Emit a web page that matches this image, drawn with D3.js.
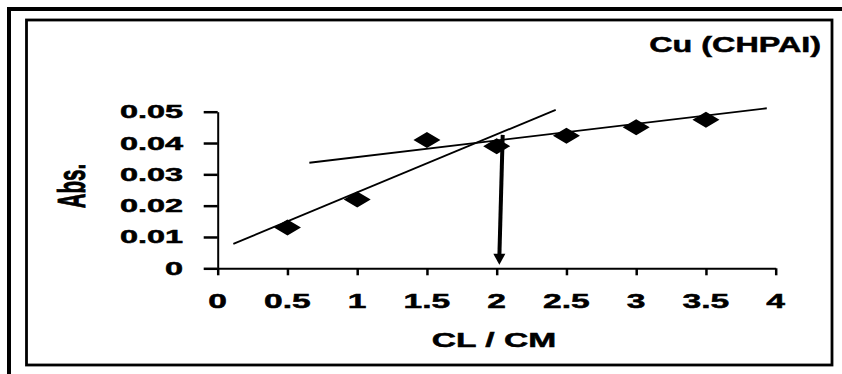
<!DOCTYPE html>
<html>
<head>
<meta charset="utf-8">
<script src="https://cdn.jsdelivr.net/npm/d3@7/dist/d3.min.js"></script>
<style>
html,body{margin:0;padding:0;background:#fff;}
svg{display:block;}
text{font-family:"Liberation Sans",Arial,sans-serif;font-weight:bold;fill:#000;stroke:#000;stroke-width:0.5px;}
</style>
</head>
<body>
<svg id="chart" width="842" height="374"></svg>
<script>
// ---- data ----
const xValues = [0.5, 1, 1.5, 2, 2.5, 3, 3.5];
const absValues = [0.013, 0.022, 0.041, 0.039, 0.0423, 0.045, 0.0474];
const xTicks = [0, 0.5, 1, 1.5, 2, 2.5, 3, 3.5, 4];
const xTickLabels = ["0", "0.5", "1", "1.5", "2", "2.5", "3", "3.5", "4"];
const yTicks = [0, 0.01, 0.02, 0.03, 0.04, 0.05];
const yTickLabels = ["0", "0.01", "0.02", "0.03", "0.04", "0.05"];
const fitLineLow = [[0.112, 0.0078], [2.423, 0.0506]];
const fitLineHigh = [[0.657, 0.0337], [3.936, 0.0511]];
const arrowLine = [[2.043, 0.0426], [2.019, 0.0011]];
const titleText = "Cu (CHPAI)";
const xTitle = "CL / CM";
const yTitle = "Abs.";

// ---- layout ----
const svg = d3.select("#chart");
const x = d3.scaleLinear().domain([0, 4]).range([217.7, 775.7]);
const y = d3.scaleLinear().domain([0, 0.05]).range([268.3, 111.7]);
const SX = 1.6; // horizontal stretch of the text in the reference

// outer frame (top and left edges)
svg.append("line").attr("x1", 7).attr("y1", 9).attr("x2", 842).attr("y2", 9)
  .attr("stroke", "#000").attr("stroke-width", 4);
svg.append("line").attr("x1", 9).attr("y1", 7).attr("x2", 9).attr("y2", 374)
  .attr("stroke", "#000").attr("stroke-width", 4);
// inner frame
svg.append("rect").attr("x", 26.5).attr("y", 20).attr("width", 805.5).attr("height", 345)
  .attr("fill", "none").attr("stroke", "#000").attr("stroke-width", 2.8);

// axes
const yAxis = d3.axisLeft(y).tickValues(yTicks).tickSize(14).tickSizeOuter(0).tickFormat("");
const xAxis = d3.axisBottom(x).tickValues(xTicks).tickSize(7).tickSizeOuter(0).tickFormat("");
const gy = svg.append("g").attr("transform", `translate(${x(0)},0)`).call(yAxis);
const gx = svg.append("g").attr("transform", `translate(0,${y(0)})`).call(xAxis);
[gy, gx].forEach(g => {
  g.select(".domain").attr("stroke", "#000").attr("stroke-width", 2);
  g.selectAll(".tick line").attr("stroke", "#000").attr("stroke-width", 2.5);
});

// tick labels
svg.append("g").selectAll("text").data(yTicks).join("text")
  .attr("transform", d => `translate(183,${y(d) + 6.5}) scale(1.8,1)`)
  .attr("text-anchor", "end").attr("font-size", 18)
  .text((d, i) => yTickLabels[i]);
svg.append("g").selectAll("text").data(xTicks).join("text")
  .attr("transform", d => `translate(${x(d)},307.5) scale(${SX},1)`)
  .attr("text-anchor", "middle").attr("font-size", 21)
  .text((d, i) => xTickLabels[i]);

// axis titles
svg.append("text").attr("transform", "translate(494,347) scale(1.6,1)")
  .attr("text-anchor", "middle").attr("font-size", 21).text(xTitle);
svg.append("text").attr("transform", "translate(85,186) scale(1.9,1) rotate(-90)")
  .attr("text-anchor", "middle").attr("font-size", 20.5).text(yTitle);
svg.append("text").attr("transform", "translate(821,52) scale(1.47,1)")
  .attr("text-anchor", "end").attr("font-size", 22).text(titleText);

// fit lines
const lineGen = d3.line().x(d => x(d[0])).y(d => y(d[1]));
[fitLineLow, fitLineHigh].forEach(L => {
  svg.append("path").attr("d", lineGen(L)).attr("fill", "none")
    .attr("stroke", "#000").attr("stroke-width", 1.8);
});

// arrow
const a0 = arrowLine[0], a1 = arrowLine[1];
const ax0 = x(a0[0]), ay0 = y(a0[1]), ax1 = x(a1[0]), ay1 = y(a1[1]);
svg.append("line").attr("x1", ax0).attr("y1", ay0).attr("x2", ax1).attr("y2", ay1 - 8)
  .attr("stroke", "#000").attr("stroke-width", 4);
svg.append("path").attr("d", `M${ax1},${ay1} L${ax1 - 6},${ay1 - 11} L${ax1 + 6},${ay1 - 11} Z`)
  .attr("fill", "#000");

// diamonds
svg.append("g").selectAll("path").data(xValues).join("path")
  .attr("transform", (d, i) => `translate(${x(d)},${y(absValues[i])})`)
  .attr("d", "M0,-8 L13.5,0 L0,8 L-13.5,0 Z")
  .attr("fill", "#000");
</script>
</body>
</html>
